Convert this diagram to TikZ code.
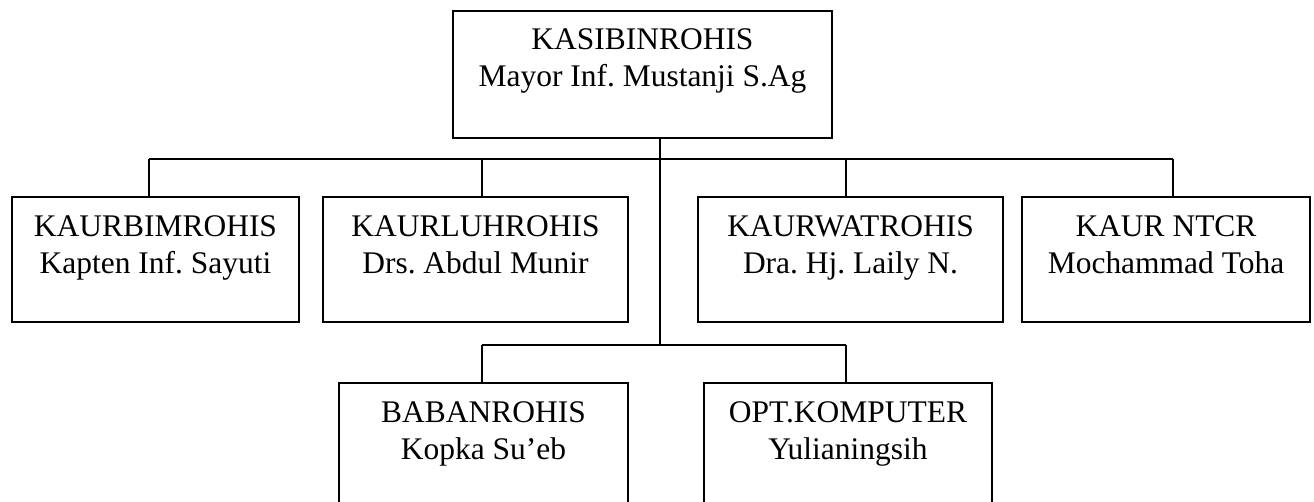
\documentclass[tikz,border=0pt]{standalone}
\usepackage{fontspec}
\setmainfont{Liberation Serif}
\frenchspacing
\begin{document}
\begin{tikzpicture}[x=0.75pt,y=-0.75pt,
  box/.style={draw, line width=0.9pt, inner sep=0pt},
  wire/.style={line width=0.9pt},
  lbl/.style={align=center, anchor=base, inner sep=0pt, font=\fontsize{23.6pt}{27.5pt}\selectfont}]
\useasboundingbox (0,0) rectangle (1314,502);
\clip (0,0) rectangle (1314,502);
% boxes
\node[box, minimum width=284.25pt, minimum height=95.25pt] (top) at (642.5,74.5) {};
\node[box, minimum width=215.25pt, minimum height=93.75pt] (b1) at (155.5,259.5) {};
\node[box, minimum width=228.75pt, minimum height=93.75pt] (b2) at (475.5,259.5) {};
\node[box, minimum width=228.75pt, minimum height=93.75pt] (b3) at (850.5,259.5) {};
\node[box, minimum width=216pt, minimum height=93.75pt] (b4) at (1166,259.5) {};
\node[box, minimum width=216.75pt, minimum height=102.75pt] (b5) at (483.5,451.5) {};
\node[box, minimum width=216pt, minimum height=102.75pt] (b6) at (848,451.5) {};
% texts (base anchor = baseline of last line)
\node[lbl] (t0) at ([yshift=-56.75pt]top.north) {KASIBINROHIS\\Mayor Inf. Mustanji S.Ag};
\node[lbl] (t1) at ([yshift=-57.5pt]b1.north) {KAURBIMROHIS\\Kapten Inf. Sayuti};
\node[lbl] (t2) at ([yshift=-57.5pt]b2.north) {KAURLUHROHIS\\Drs. Abdul Munir};
\node[lbl] (t3) at ([yshift=-57.5pt]b3.north) {KAURWATROHIS\\Dra. Hj. Laily N.};
\node[lbl] (t4) at ([yshift=-57.5pt]b4.north) {KAUR NTCR\\Mochammad Toha};
\node[lbl] (t5) at ([yshift=-57.5pt]b5.north) {BABANROHIS\\Kopka Su’eb};
\node[lbl] (t6) at ([yshift=-57.5pt]b6.north) {OPT.KOMPUTER\\Yulianingsih};
% connector points
\coordinate (c1) at (149,159);
\coordinate (c2) at (482,159);
\coordinate (hub) at (660,159);
\coordinate (c3) at (846,159);
\coordinate (c4) at (1173,159);
\coordinate (hub2) at (660,345);
\coordinate (d1) at (482,345);
\coordinate (d2) at (846,345);
% connectors
\draw[wire] (c1) -- (c4);
\draw[wire] (c1) -- (c1 |- b1.north);
\draw[wire] (c2) -- (c2 |- b2.north);
\draw[wire] (c3) -- (c3 |- b3.north);
\draw[wire] (c4) -- (c4 |- b4.north);
\draw[wire] (top.south -| hub) -- (hub2);
\draw[wire] (d1) -- (d2);
\draw[wire] (d1) -- (d1 |- b5.north);
\draw[wire] (d2) -- (d2 |- b6.north);
\end{tikzpicture}
\end{document}
